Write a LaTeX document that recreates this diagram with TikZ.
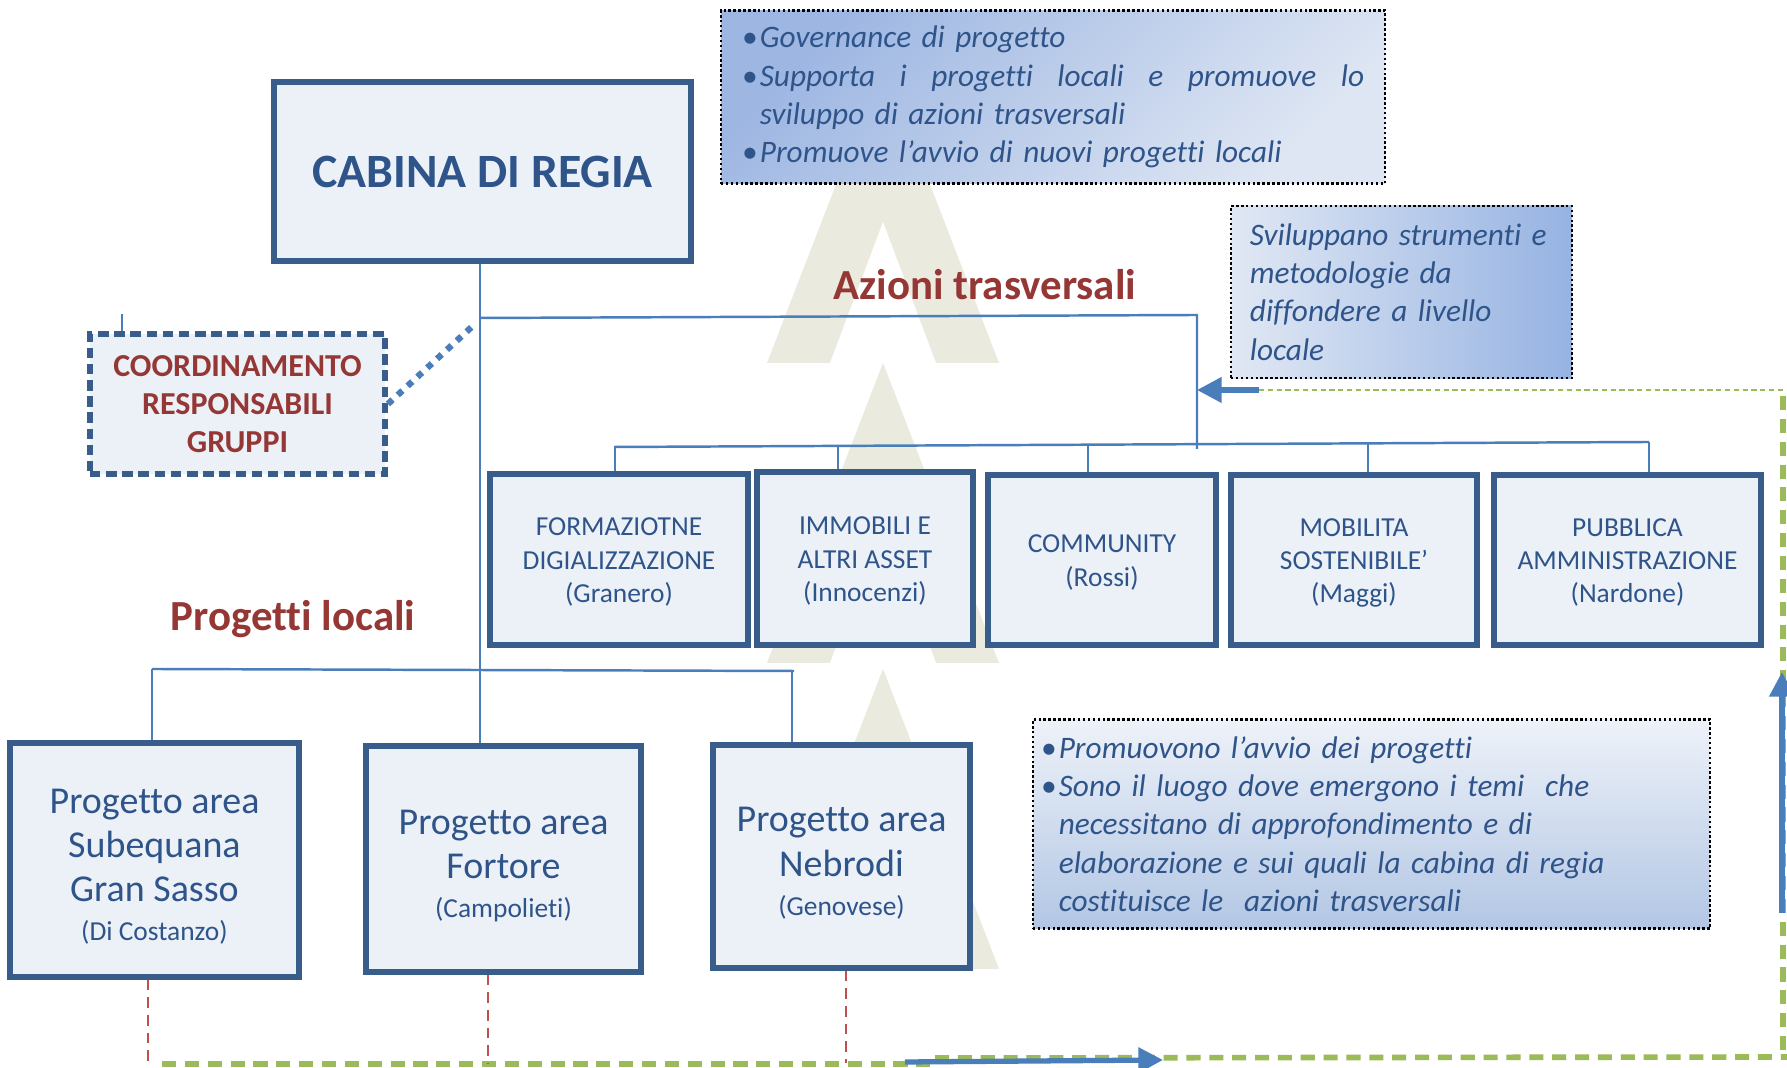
\documentclass[tikz,border=0pt]{standalone}
\usepackage{fontspec}
\setmainfont{Carlito}[Ligatures=NoCommon]
\usetikzlibrary{arrows.meta}
\definecolor{boxblue}{RGB}{56,93,138}
\definecolor{boxfill}{RGB}{236,241,248}
\definecolor{txtblue}{RGB}{46,84,138}
\definecolor{redtxt}{RGB}{149,55,53}
\definecolor{lineblue}{RGB}{74,126,187}
\definecolor{greenl}{RGB}{155,187,89}
\definecolor{redl}{RGB}{192,80,77}
\definecolor{beige}{RGB}{234,234,222}
\newcommand{\bul}{\makebox[0.18cm][l]{\textbullet}}
\newcommand{\hi}{\rule{0pt}{10.8pt}}
\newcommand{\lo}{\rule{0pt}{6.5pt}}
\begin{document}
\begin{tikzpicture}[x=0.01cm, y=-0.01cm,
  main/.style = {draw=boxblue, line width=1.6pt, fill=boxfill, text=txtblue, align=center, inner sep=0pt},
  small/.style = {main, font=\fontsize{7.8}{9.4}\selectfont},
  big/.style = {main, font=\fontsize{10.8}{12.6}\selectfont},
  note/.style = {draw=black, line width=0.7pt, dash pattern=on 0.7pt off 0.7pt, text=txtblue, align=left, inner ysep=0pt, font=\fontsize{8.9}{10.9}\selectfont\itshape},
  label/.style = {text=redtxt, font=\fontsize{12.2}{14}\selectfont\bfseries},
  conn/.style = {draw=lineblue, line width=0.7pt},
  arr/.style = {draw=lineblue, line width=1.5pt, -{Triangle[length=7pt,width=7pt]}},
  dotlink/.style = {draw=lineblue, line width=1.8pt, dash pattern=on 1.8pt off 2pt},
  greendash/.style = {draw=greenl, line width=1.6pt, dash pattern=on 4pt off 2.5pt},
  greendot/.style = {draw=greenl, line width=0.6pt, dash pattern=on 1.5pt off 1pt},
  reddash/.style = {draw=redl, line width=0.6pt, dash pattern=on 3pt off 2pt}]
\useasboundingbox[fill=white] (0,0) rectangle (1787,1068);

% watermark
\foreach \a in {63,363,669} {
  \fill[beige] (767,\a+300) -- (883,\a) -- (999,\a+300) -- cycle;
  \fill[white] (830,\a+300) -- (883,\a+159) -- (936,\a+300) -- cycle;
}

% notes
\node[note, top color={rgb,255:red,157;green,182;blue,226}, bottom color={rgb,255:red,222;green,230;blue,243}, shading angle=45,
  minimum width=6.64cm, minimum height=1.73cm, inner xsep=0.21cm, text width=6.22cm] (gov) at (1053,97)
  {\bul Governance di progetto\\
   \bul\makebox[6.04cm][l]{Supporta\hfill i\hfill progetti\hfill locali\hfill e\hfill promuove\hfill lo}\\
   \hspace*{0.18cm}sviluppo di azioni trasversali\\
   \bul Promuove l’avvio di nuovi progetti locali};
\node[note, left color={rgb,255:red,225;green,232;blue,244}, right color={rgb,255:red,150;green,179;blue,226},
  minimum width=3.41cm, minimum height=1.72cm, inner xsep=0.19cm, text width=3.03cm] (svil) at (1401.5,292)
  {Sviluppano strumenti e\\ metodologie da\\ diffondere a livello\\ locale};
\node[note, top color={rgb,255:red,238;green,242;blue,249}, bottom color={rgb,255:red,178;green,198;blue,228},
  minimum width=6.77cm, minimum height=2.09cm, inner xsep=0.08cm, text width=6.61cm] (prom) at (1371.5,824)
  {\bul Promuovono l’avvio dei progetti\\
   \bul Sono il luogo dove emergono i temi \ che\\
   \hspace*{0.18cm}necessitano di approfondimento e di\\
   \hspace*{0.18cm}elaborazione e sui quali la cabina di regia\\
   \hspace*{0.18cm}costituisce le \ azioni trasversali};

% main boxes
\node[main, minimum width=4.17cm, minimum height=1.79cm, font=\fontsize{13.6}{16}\selectfont\bfseries] (cab) at (482.5,171.5) {CABINA DI REGIA};
\node[main, dash pattern=on 3pt off 1.6pt, minimum width=2.95cm, minimum height=1.40cm, text=redtxt,
  font=\fontsize{9.1}{10.9}\selectfont\bfseries] (coord) at (237.5,404) {COORDINAMENTO\\RESPONSABILI\\GRUPPI};

\node[label] (az) at (985,285) {Azioni trasversali};
\node[label] (pl) at (293,619) {Progetti locali};

\node[small, minimum width=2.58cm, minimum height=1.71cm] (f1) at (619,559.5) {\lo FORMAZIOTNE\\DIGIALIZZAZIONE\\(Granero)};
\node[small, minimum width=2.16cm, minimum height=1.73cm] (f2) at (865,558.5) {\lo IMMOBILI E\\ALTRI ASSET\\(Innocenzi)};
\node[small, minimum width=2.28cm, minimum height=1.70cm] (f3) at (1102,560) {\lo COMMUNITY\\(Rossi)};
\node[small, minimum width=2.46cm, minimum height=1.70cm] (f4) at (1354,560) {\lo MOBILITA\\SOSTENIBILE’\\(Maggi)};
\node[small, minimum width=2.67cm, minimum height=1.70cm] (f5) at (1627.5,560) {\lo PUBBLICA\\AMMINISTRAZIONE\\(Nardone)};

\node[big, minimum width=2.89cm, minimum height=2.34cm] (p1) at (154.5,860)
  {\hi Progetto area\\Subequana\\Gran Sasso\\[-1.5pt]{\fontsize{7.8}{9}\selectfont (Di Costanzo)}};
\node[big, minimum width=2.75cm, minimum height=2.26cm] (p2) at (503.5,859)
  {\hi Progetto area\\Fortore\\[-1.5pt]{\fontsize{7.8}{9}\selectfont (Campolieti)}};
\node[big, minimum width=2.57cm, minimum height=2.23cm] (p3) at (841.5,856.5)
  {\hi Progetto area\\Nebrodi\\[-1.5pt]{\fontsize{7.8}{9}\selectfont (Genovese)}};

% connectors
\coordinate (j1) at (480,318);
\coordinate (j2) at (1197,315);
\coordinate (j3) at (1197,449);
\draw[conn] (cab.south -| j1) -- (j1 |- p2.north);
\draw[conn] (j1) -- (j2) -- (j3);
\coordinate (r1) at (614,447);
\coordinate (r2) at (1649,442);
\draw[conn] (r1) -- (r2);
\foreach \n/\x/\y in {1/615/447, 2/838/446, 3/1088/445, 4/1368/443, 5/1649/442}
  \draw[conn] (\x,\y) -- (\x,\y |- f\n.north);

\coordinate (h1) at (152,669);
\coordinate (h2) at (794,671);
\draw[conn] (h1) -- (h2);
\draw[conn] (h1) -- (h1 |- p1.north);
\draw[conn] (792,671) -- (792,671 |- p3.north);

\coordinate (k) at (476,323);
\draw[dotlink] (coord.east) -- (k);
\draw[conn] (coord.north -| 122,0) -- ++(0,-17);

% feedback loop
\coordinate (g0) at (1259,390);
\coordinate (g1) at (1783,390);
\coordinate (g2) at (1783,1057);
\draw[greendot] (g0) -- (g1);
\draw[greendash] (1783,396) -- (g2);
\draw[greendash] (162,1064) -- (935,1064);
\draw[greendash] (935,1058) -- (1787,1057);
\foreach \q/\x in {1/148, 2/488, 3/846} {
  \coordinate (q\q) at (\x,1063);
  \draw[reddash] (q\q |- p\q.south) -- (q\q);
}
\draw[arr] (g0) -- (j3 |- g0);
\draw[arr] (905,1062) -- (1163,1060);
\draw[arr] (1782,913) -- (1782,672);
\end{tikzpicture}
\end{document}
